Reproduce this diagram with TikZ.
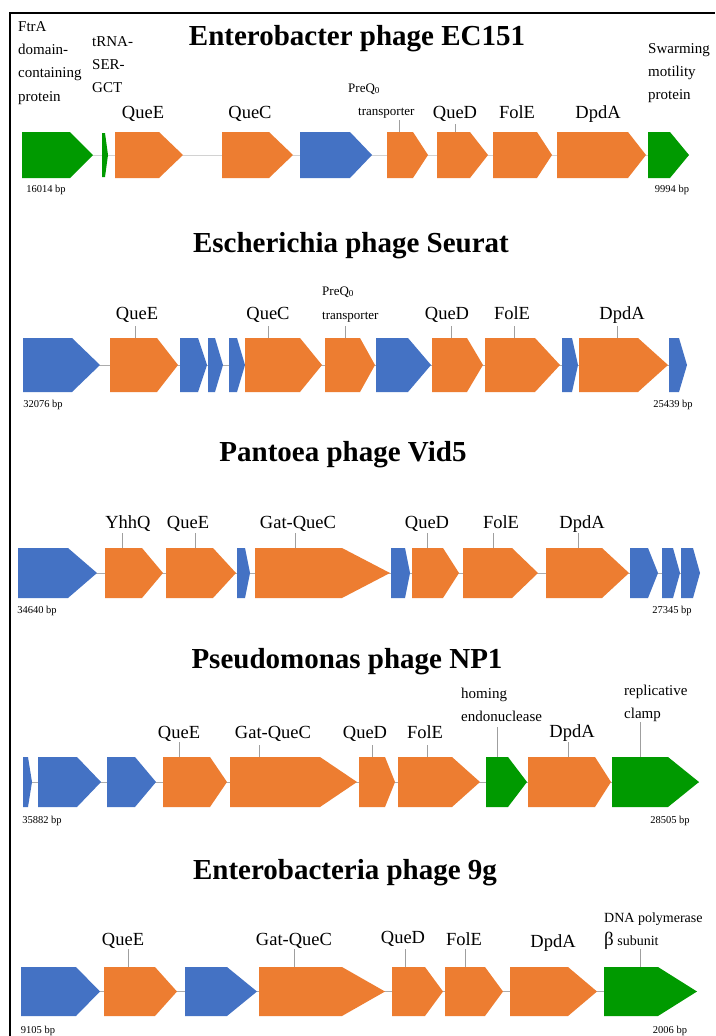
\documentclass[tikz,border=0pt]{standalone}
\usepackage{fontspec}
\setmainfont{Liberation Serif}
\definecolor{og}{HTML}{ED7D31}
\definecolor{bl}{HTML}{4472C4}
\definecolor{gr}{HTML}{009A00}
% gene arrow: colour, left x, shoulder x, tip x, top y, bottom y
\newcommand\gn[6]{\fill[#1] (#2,#5) -- (#3,#5) -- (#4,{(#5+#6)/2}) -- (#3,#6) -- (#2,#6) -- cycle;}
\tikzset{
  ttl/.style={font=\fontsize{29}{32}\selectfont\bfseries, anchor=base, inner sep=0pt},
  lab/.style={font=\fontsize{18.5}{20}\selectfont, anchor=base, inner sep=0pt},
  sml/.style={font=\fontsize{15}{23.3}\selectfont, anchor=north west, align=left, inner sep=0pt},
  bp/.style={font=\fontsize{10.5}{12}\selectfont, anchor=base, inner sep=0pt},
  tck/.style={draw=gray!75, line width=0.8pt},
  bb/.style={draw=gray!65, line width=0.8pt},
}
\begin{document}
\begin{tikzpicture}[x=1pt,y=-1pt]
\useasboundingbox (0,0) rectangle (715,1036);
\fill[white] (0,0) rectangle (715,1036);
\draw[line width=1.3pt] (10,1036) -- (10,13) -- (715,13);

% ---------------- Panel 1 ----------------
\node[ttl] (t1) at (357,45) {Enterobacter phage EC151};
\draw[draw=gray!35, line width=0.8pt] (22,155) -- (689,155);
\gn{gr}{22}{70}{93}{132}{178}
\gn{gr}{102}{105}{108}{133}{177}
\gn{og}{115}{159}{183}{132}{178}
\gn{og}{222}{269}{293}{132}{178}
\gn{bl}{300}{350}{372}{132}{178}
\gn{og}{387}{413}{428}{132}{178}
\gn{og}{437}{470}{488}{132}{178}
\gn{og}{493}{537}{552}{132}{178}
\gn{og}{557}{628}{646}{132}{178}
\gn{gr}{648}{670}{689}{132}{178}
\node[sml] (a1) at (18,21) {FtrA\\domain-\\containing\\protein};
\node[sml] (a2) at (92,36) {tRNA-\\SER-\\GCT};
\node[lab] (a3) at (143,118) {QueE};
\node[lab] (a4) at (250,118) {QueC};
\node[sml,font=\fontsize{13}{20}\selectfont,anchor=base west] (a5) at (348,92) {PreQ\textsubscript{0}};
\node[sml,font=\fontsize{13}{20}\selectfont,anchor=base west] (a6) at (358,115) {transporter};
\node[lab] (a7) at (455,118) {QueD};
\node[lab] (a8) at (517,118) {FolE};
\node[lab] (a9) at (598,118) {DpdA};
\node[sml] (a10) at (648,43) {Swarming\\motility\\protein};
\draw[tck] (399,120) -- (399,132);
\draw[tck] (455,124) -- (455,132);
\node[bp] (b1) at (46,192) {16014 bp};
\node[bp] (b2) at (672,192) {9994 bp};

% ---------------- Panel 2 ----------------
\node[ttl] (t2) at (351,252) {Escherichia phage Seurat};
\draw[bb] (23,365) -- (687,365);
\gn{bl}{23}{72}{100}{338}{392}
\gn{og}{110}{157}{178}{338}{392}
\gn{bl}{180}{198}{207}{338}{392}
\gn{bl}{208}{215}{223}{338}{392}
\gn{bl}{229}{237}{245}{338}{392}
\gn{og}{245}{300}{322}{338}{392}
\gn{og}{325}{360}{375}{338}{392}
\gn{bl}{376}{408}{431}{338}{392}
\gn{og}{432}{467}{483}{338}{392}
\gn{og}{485}{535}{560}{338}{392}
\gn{bl}{562}{572}{578}{338}{392}
\gn{og}{579}{638}{668}{338}{392}
\gn{bl}{669}{679}{687}{338}{392}
\node[lab] (c1) at (137,319) {QueE};
\node[lab] (c2) at (268,319) {QueC};
\node[sml,font=\fontsize{13}{20}\selectfont,anchor=base west] (c3) at (322,295) {PreQ\textsubscript{0}};
\node[sml,font=\fontsize{13}{20}\selectfont,anchor=base west] (c4) at (322,319) {transporter};
\node[lab] (c5) at (447,319) {QueD};
\node[lab] (c6) at (512,319) {FolE};
\node[lab] (c7) at (622,319) {DpdA};
\foreach \x in {135,268,345,451,514,617} \draw[tck] (\x,326) -- (\x,338);
\node[bp] (b3) at (43,407) {32076 bp};
\node[bp] (b4) at (673,407) {25439 bp};

% ---------------- Panel 3 ----------------
\node[ttl] (t3) at (343,461) {Pantoea phage Vid5};
\draw[bb] (18,573) -- (700,573);
\gn{bl}{18}{68}{97}{548}{598}
\gn{og}{105}{142}{163}{548}{598}
\gn{og}{166}{213}{236}{548}{598}
\gn{bl}{237}{245}{250}{548}{598}
\gn{og}{255}{342}{390}{548}{598}
\gn{bl}{391}{405}{410}{548}{598}
\gn{og}{412}{443}{459}{548}{598}
\gn{og}{463}{512}{538}{548}{598}
\gn{og}{546}{602}{629}{548}{598}
\gn{bl}{630}{648}{658}{548}{598}
\gn{bl}{662}{673}{680}{548}{598}
\gn{bl}{681}{693}{700}{548}{598}
\node[lab] (d1) at (128,528) {YhhQ};
\node[lab] (d2) at (188,528) {QueE};
\node[lab] (d3) at (298,528) {Gat-QueC};
\node[lab] (d4) at (427,528) {QueD};
\node[lab] (d5) at (501,528) {FolE};
\node[lab] (d6) at (582,528) {DpdA};
\foreach \x in {122,195,295,427,493,578} \draw[tck] (\x,533) -- (\x,548);
\node[bp] (b5) at (37,613) {34640 bp};
\node[bp] (b6) at (672,613) {27345 bp};

% ---------------- Panel 4 ----------------
\node[ttl] (t4) at (347,668) {Pseudomonas phage NP1};
\draw[bb] (23,782) -- (699,782);
\gn{bl}{23}{28}{32}{757}{807}
\gn{bl}{38}{77}{101}{757}{807}
\gn{bl}{107}{135}{156}{757}{807}
\gn{og}{163}{210}{227}{757}{807}
\gn{og}{230}{320}{357}{757}{807}
\gn{og}{359}{385}{395}{757}{807}
\gn{og}{398}{452}{480}{757}{807}
\gn{gr}{486}{508}{527}{757}{807}
\gn{og}{528}{595}{611}{757}{807}
\gn{gr}{612}{668}{699}{757}{807}
\node[lab] (e1) at (179,738) {QueE};
\node[lab] (e2) at (273,738) {Gat-QueC};
\node[lab] (e3) at (365,738) {QueD};
\node[lab] (e4) at (425,738) {FolE};
\node[sml] (e5) at (461,688) {homing\\endonuclease};
\node[lab] (e6) at (572,737) {DpdA};
\node[sml] (e7) at (624,685) {replicative\\clamp};
\draw[tck] (179,742) -- (179,757);
\draw[tck] (259,745) -- (259,757);
\draw[tck] (372,745) -- (372,757);
\draw[tck] (427,745) -- (427,757);
\draw[tck] (497,727) -- (497,757);
\draw[tck] (568,742) -- (568,757);
\draw[tck] (640,722) -- (640,757);
\node[bp] (b7) at (42,823) {35882 bp};
\node[bp] (b8) at (670,823) {28505 bp};

% ---------------- Panel 5 ----------------
\node[ttl] (t5) at (345,879) {Enterobacteria phage 9g};
\draw[bb] (21,991) -- (697,991);
\gn{bl}{21}{76}{100}{967}{1016}
\gn{og}{104}{155}{177}{967}{1016}
\gn{bl}{185}{227}{257}{967}{1016}
\gn{og}{259}{342}{385}{967}{1016}
\gn{og}{392}{425}{443}{967}{1016}
\gn{og}{445}{485}{503}{967}{1016}
\gn{og}{510}{568}{597}{967}{1016}
\gn{gr}{604}{658}{697}{967}{1016}
\node[lab] (f1) at (123,945) {QueE};
\node[lab] (f2) at (294,945) {Gat-QueC};
\node[lab] (f3) at (403,943) {QueD};
\node[lab] (f4) at (464,945) {FolE};
\node[lab] (f5) at (553,947) {DpdA};
\node[sml,font=\fontsize{14}{23.3}\selectfont] (f6) at (604,912.5) {DNA polymerase\\{\fontsize{19}{20}\selectfont β} subunit};
\foreach \x in {128,294,405,465,640} \draw[tck] (\x,949) -- (\x,967);
\node[bp] (b9) at (38,1033) {9105 bp};
\node[bp] (b10) at (670,1033) {2006 bp};
\end{tikzpicture}
\end{document}
